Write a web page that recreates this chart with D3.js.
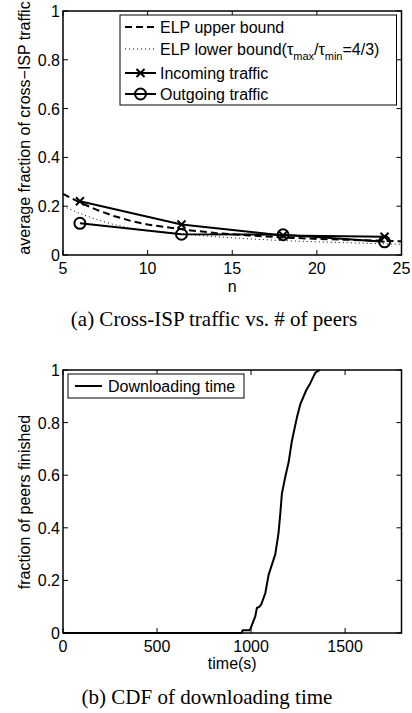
<!DOCTYPE html>
<html>
<head>
<meta charset="utf-8">
<script src="https://cdn.jsdelivr.net/npm/d3@7"></script>
<style>
  body { margin: 0; background: #fff; }
  svg { display: block; }
  text { font-family: "Liberation Sans", Arial, sans-serif; fill: #000; }
  .caption { font-family: "Liberation Serif", "Times New Roman", serif; }
</style>
</head>
<body>
<svg id="chart" width="412" height="713"></svg>
<script>
'use strict'

// (a) cross-ISP traffic vs number of peers
const peers = [6, 12, 18, 24]
const incoming = [0.22, 0.125, 0.08, 0.075]
const outgoing = [0.13, 0.085, 0.083, 0.054]
const boundN = [5, 6, 7, 8, 9, 10, 12, 14, 16, 18, 20, 22, 24, 25]
const upperBound = [0.25, 0.215, 0.185, 0.16, 0.14, 0.125, 0.105, 0.09, 0.08, 0.072, 0.066, 0.062, 0.058, 0.056]
const lowerBound = [0.2, 0.17, 0.145, 0.125, 0.11, 0.1, 0.087, 0.075, 0.066, 0.059, 0.054, 0.05, 0.046, 0.044]
const nTicks = [5, 10, 15, 20, 25]
const fracTicks = [0, 0.2, 0.4, 0.6, 0.8, 1]

// (b) CDF of downloading time
const times = [0, 950, 955, 990, 996, 1010, 1022, 1031, 1045, 1055, 1076, 1093, 1111, 1129, 1146, 1155, 1164, 1182, 1200, 1217, 1244, 1262, 1294, 1315, 1342, 1365]
const finished = [0, 0, 0.01, 0.01, 0.015, 0.04, 0.062, 0.095, 0.1, 0.11, 0.152, 0.22, 0.26, 0.3, 0.38, 0.45, 0.53, 0.594, 0.65, 0.73, 0.82, 0.87, 0.924, 0.95, 0.99, 1.0]
const timeTicks = [0, 500, 1000, 1500]

window.onload = function() {
  const svg = d3.select('#chart')
  const left = 63, right = 401.5

  // box, inward ticks on all four sides, tick labels
  const drawFrame = function(g, x, y, xt, yt) {
    const [x0, x1] = x.range(), [y0, y1] = y.range()
    const tickLen = 5
    xt.forEach(t => {
      g.append('line').attr('x1', x(t)).attr('x2', x(t)).attr('y1', y0).attr('y2', y0 - tickLen)
        .attr('stroke', '#000').attr('stroke-width', 1)
      g.append('line').attr('x1', x(t)).attr('x2', x(t)).attr('y1', y1).attr('y2', y1 + tickLen)
        .attr('stroke', '#000').attr('stroke-width', 1)
      g.append('text').attr('x', x(t)).attr('y', y0 + 19)
        .attr('text-anchor', 'middle').attr('font-size', 16).text(t)
    })
    yt.forEach(t => {
      g.append('line').attr('x1', x0).attr('x2', x0 + tickLen).attr('y1', y(t)).attr('y2', y(t))
        .attr('stroke', '#000').attr('stroke-width', 1)
      g.append('line').attr('x1', x1).attr('x2', x1 - tickLen).attr('y1', y(t)).attr('y2', y(t))
        .attr('stroke', '#000').attr('stroke-width', 1)
      g.append('text').attr('x', x0 - 3).attr('y', y(t) + 6)
        .attr('text-anchor', 'end').attr('font-size', 16).text(t)
    })
    g.append('rect').attr('x', x0).attr('y', y1).attr('width', x1 - x0).attr('height', y0 - y1)
      .attr('fill', 'none').attr('stroke', '#000').attr('stroke-width', 1.5)
  }

  const cross = function(g, cx, cy) {
    const s = 4
    g.append('path').attr('d', `M${cx - s},${cy - s}L${cx + s},${cy + s}M${cx - s},${cy + s}L${cx + s},${cy - s}`)
      .attr('stroke', '#000').attr('stroke-width', 2)
  }
  const ring = function(g, cx, cy) {
    g.append('circle').attr('cx', cx).attr('cy', cy).attr('r', 5.5)
      .attr('fill', 'none').attr('stroke', '#000').attr('stroke-width', 2)
  }

  // ---------- (a)
  const xA = d3.scaleLinear().domain([5, 25]).range([left, right])
  const yA = d3.scaleLinear().domain([0, 1]).range([255, 11])
  const gA = svg.append('g')

  svg.append('clipPath').attr('id', 'clipA').append('rect')
    .attr('x', left).attr('y', 11).attr('width', right - left).attr('height', 244)

  const lineA = d3.line().x(d => xA(d[0])).y(d => yA(d[1]))
  const upper = boundN.map((n, i) => [n, upperBound[i]])
  const lower = boundN.map((n, i) => [n, lowerBound[i]])
  const inc = peers.map((n, i) => [n, incoming[i]])
  const out = peers.map((n, i) => [n, outgoing[i]])

  const plotA = gA.append('g').attr('clip-path', 'url(#clipA)')
  plotA.append('path').attr('d', lineA(upper)).attr('fill', 'none')
    .attr('stroke', '#000').attr('stroke-width', 2).attr('stroke-dasharray', '7,4')
  plotA.append('path').attr('d', lineA(lower)).attr('fill', 'none')
    .attr('stroke', '#000').attr('stroke-width', 1).attr('stroke-dasharray', '1,3')
  plotA.append('path').attr('d', lineA(inc)).attr('fill', 'none')
    .attr('stroke', '#000').attr('stroke-width', 2)
  plotA.append('path').attr('d', lineA(out)).attr('fill', 'none')
    .attr('stroke', '#000').attr('stroke-width', 2)

  inc.forEach(d => cross(gA, xA(d[0]), yA(d[1])))
  out.forEach(d => ring(gA, xA(d[0]), yA(d[1])))

  drawFrame(gA, xA, yA, nTicks, fracTicks)

  gA.append('text').attr('x', (left + right) / 2).attr('y', 292)
    .attr('text-anchor', 'middle').attr('font-size', 16).text('n')
  gA.append('text').attr('transform', 'translate(30,' + 128 + ') rotate(-90)')
    .attr('text-anchor', 'middle').attr('font-size', 16).text('average fraction of cross\u2212ISP traffic')

  // legend (a)
  const legA = gA.append('g')
  legA.append('rect').attr('x', 120).attr('y', 15).attr('width', 276.5).attr('height', 90)
    .attr('fill', '#fff').attr('stroke', '#000').attr('stroke-width', 1)
  const legRows = [27, 49, 73, 94]
  const sampleX = [125, 156]
  legA.append('line').attr('x1', sampleX[0]).attr('x2', sampleX[1]).attr('y1', legRows[0]).attr('y2', legRows[0])
    .attr('stroke', '#000').attr('stroke-width', 2).attr('stroke-dasharray', '7,4')
  legA.append('line').attr('x1', sampleX[0]).attr('x2', sampleX[1]).attr('y1', legRows[1]).attr('y2', legRows[1])
    .attr('stroke', '#000').attr('stroke-width', 1).attr('stroke-dasharray', '1,3')
  legA.append('line').attr('x1', sampleX[0]).attr('x2', sampleX[1]).attr('y1', legRows[2]).attr('y2', legRows[2])
    .attr('stroke', '#000').attr('stroke-width', 2)
  legA.append('line').attr('x1', sampleX[0]).attr('x2', sampleX[1]).attr('y1', legRows[3]).attr('y2', legRows[3])
    .attr('stroke', '#000').attr('stroke-width', 2)
  cross(legA, (sampleX[0] + sampleX[1]) / 2, legRows[2])
  ring(legA, (sampleX[0] + sampleX[1]) / 2, legRows[3])

  const tx = 160
  legA.append('text').attr('x', tx).attr('y', legRows[0] + 6).attr('font-size', 16).text('ELP upper bound')
  const lb = legA.append('text').attr('x', tx).attr('y', legRows[1] + 6).attr('font-size', 16)
  lb.append('tspan').text('ELP lower bound(\u03c4')
  lb.append('tspan').attr('font-size', 11).attr('dy', 5).text('max')
  lb.append('tspan').attr('dy', -5).text('/\u03c4')
  lb.append('tspan').attr('font-size', 11).attr('dy', 5).text('min')
  lb.append('tspan').attr('dy', -5).text('=4/3)')
  legA.append('text').attr('x', tx).attr('y', legRows[2] + 6).attr('font-size', 16).text('Incoming traffic')
  legA.append('text').attr('x', tx).attr('y', legRows[3] + 6).attr('font-size', 16).text('Outgoing traffic')

  svg.append('text').attr('class', 'caption').attr('x', 214).attr('y', 326)
    .attr('text-anchor', 'middle').attr('font-size', 21).text('(a) Cross-ISP traffic vs. # of peers')

  // ---------- (b)
  const xB = d3.scaleLinear().domain([0, 1800]).range([left, right])
  const yB = d3.scaleLinear().domain([0, 1]).range([633, 370])
  const gB = svg.append('g')

  const lineB = d3.line().x(d => xB(d[0])).y(d => yB(d[1]))
  const cdf = times.map((t, i) => [t, finished[i]])
  gB.append('path').attr('d', lineB(cdf)).attr('fill', 'none')
    .attr('stroke', '#000').attr('stroke-width', 2).attr('stroke-linejoin', 'round')

  drawFrame(gB, xB, yB, timeTicks, fracTicks)

  gB.append('text').attr('x', (left + right) / 2).attr('y', 669)
    .attr('text-anchor', 'middle').attr('font-size', 16).text('time(s)')
  gB.append('text').attr('transform', 'translate(30,' + 502 + ') rotate(-90)')
    .attr('text-anchor', 'middle').attr('font-size', 16).text('fraction of peers finished')

  const legB = gB.append('g')
  legB.append('rect').attr('x', 68).attr('y', 374).attr('width', 176).attr('height', 24)
    .attr('fill', '#fff').attr('stroke', '#000').attr('stroke-width', 1)
  legB.append('line').attr('x1', 75).attr('x2', 102).attr('y1', 386).attr('y2', 386)
    .attr('stroke', '#000').attr('stroke-width', 2)
  legB.append('text').attr('x', 108).attr('y', 392).attr('font-size', 16).text('Downloading time')

  svg.append('text').attr('class', 'caption').attr('x', 207).attr('y', 704)
    .attr('text-anchor', 'middle').attr('font-size', 21).text('(b) CDF of downloading time')
}
</script>
</body>
</html>
